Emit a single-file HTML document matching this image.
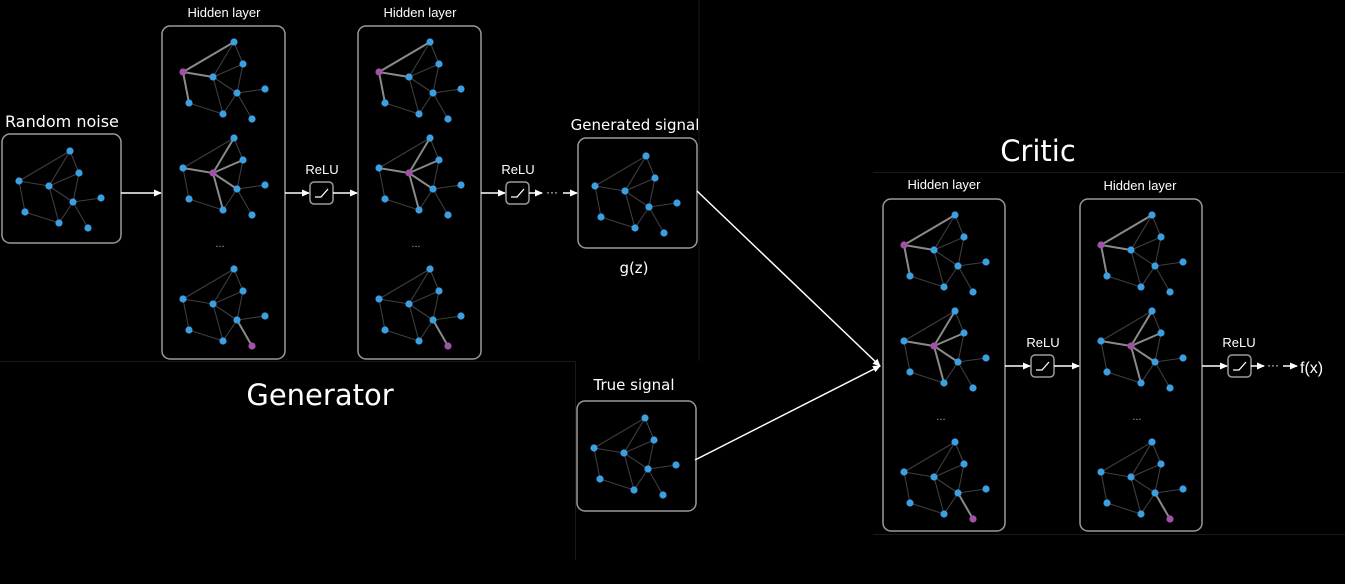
<!DOCTYPE html>
<html><head><meta charset="utf-8"><style>
html,body{margin:0;padding:0;background:#000;width:1345px;height:584px;overflow:hidden}
svg{display:block;font-family:"Liberation Sans","DejaVu Sans",sans-serif}
.dj{font-family:"DejaVu Sans","Liberation Sans",sans-serif}
</style></head><body>
<svg id="s" width="1345" height="584" viewBox="0 0 1345 584">
<defs><marker id="ah" markerWidth="8" markerHeight="8" refX="7" refY="4" orient="auto" markerUnits="userSpaceOnUse"><path d="M0,0.5 L8,4 L0,7.5z" fill="#fff"/></marker></defs>
<g stroke="#191919" stroke-width="1" fill="none">
<path d="M699,0 V361 M0,361.5 H575 M575.5,361 V560 M873,172.5 H1345 M873,534.5 H1345"/>
</g>
<g id="boxes" fill="none" stroke="#9a9a9a" stroke-width="1.5">
<rect x="2" y="134" width="119" height="109" rx="8"/>
<rect x="162" y="26" width="123" height="333" rx="8"/>
<rect x="358" y="26" width="123" height="333" rx="8"/>
<rect x="578" y="138" width="119" height="110" rx="8"/>
<rect x="577" y="401" width="119" height="110" rx="8"/>
<rect x="883" y="199" width="122" height="332" rx="8"/>
<rect x="1080" y="199" width="122" height="332" rx="8"/>
</g>
<g id="relus" fill="none" stroke="#9a9a9a" stroke-width="1.5"></g>
<g id="arrows" stroke="#fff" stroke-width="1.5" fill="none"></g>
<g id="graphs"></g>
<g fill="#fff" font-size="13">
<text x="224" y="17" text-anchor="middle">Hidden layer</text>
<text x="420" y="17" text-anchor="middle">Hidden layer</text>
<text x="944" y="189" text-anchor="middle">Hidden layer</text>
<text x="1140" y="190" text-anchor="middle">Hidden layer</text>
<text x="322" y="174" text-anchor="middle">ReLU</text>
<text x="518" y="174" text-anchor="middle">ReLU</text>
<text x="1043" y="347" text-anchor="middle">ReLU</text>
<text x="1239" y="347" text-anchor="middle">ReLU</text>
<text class="dj" x="5" y="127" font-size="16">Random noise</text>
<text class="dj" x="635" y="130" font-size="15" text-anchor="middle">Generated signal</text>
<text class="dj" x="634" y="273" font-size="15" text-anchor="middle">g(z)</text>
<text class="dj" x="634" y="390" font-size="15" text-anchor="middle">True signal</text>
<text class="dj" x="320" y="405" font-size="29" text-anchor="middle">Generator</text>
<text class="dj" x="1038" y="161" font-size="29" text-anchor="middle">Critic</text>
<text x="1300" y="373" font-size="16">f(x)</text>
<text x="220" y="247" font-size="11" fill="#aaa" text-anchor="middle">...</text>
<text x="416" y="247" font-size="11" fill="#aaa" text-anchor="middle">...</text>
<text x="941" y="420" font-size="11" fill="#aaa" text-anchor="middle">...</text>
<text x="1137" y="420" font-size="11" fill="#aaa" text-anchor="middle">...</text>
</g>
</svg>
<script>
const NS='http://www.w3.org/2000/svg';
const nodeOffsets=[[0,0],[9,22],[-51,30],[-21,35],[3,51],[31,47],[-45,61],[-11,72],[18,77]];
const edges=[[2,0],[0,1],[3,0],[2,3],[3,1],[3,4],[1,4],[4,5],[4,8],[3,7],[4,7],[2,6],[6,7]];
const graphTops=[[70,151,-1],[234,42,2],[234,138,3],[234,269,8],[430,42,2],[430,138,3],[430,269,8],[646,156,-1],[645,418,-1],[955,215,2],[955,311,3],[955,442,8],[1152,215,2],[1152,311,3],[1152,442,8]];
const g=document.getElementById('graphs');
function mk(tag,attrs,parent){const e=document.createElementNS(NS,tag);for(const k in attrs)e.setAttribute(k,attrs[k]);parent.appendChild(e);return e;}
graphTops.forEach((t,gi)=>{
  const grp=mk('g',{},g);
  
  
  const P=nodeOffsets.map(o=>[t[0]+o[0],t[1]+o[1]]);
  edges.forEach(e=>{const hi=(e[0]===t[2]||e[1]===t[2]);
    mk('line',{x1:P[e[0]][0],y1:P[e[0]][1],x2:P[e[1]][0],y2:P[e[1]][1],stroke:hi?'#8a8a8a':'#3e3e3e','stroke-width':hi?2:1.1},grp);});
  P.forEach((p,i)=>{const c=mk('circle',{cx:p[0],cy:p[1],r:3.6,fill:i===t[2]?'#a052a8':'#3b9fe0'},grp);
    
    });
});
const relus=[[310,182],[506,182],[1031,355],[1228,355]];
const rg=document.getElementById('relus');
relus.forEach(r=>{const b=mk('g',{},rg);
  
  
  mk('rect',{x:r[0],y:r[1],width:23,height:22,rx:4},b);
  mk('path',{d:`M${r[0]+5},${r[1]+15} H${r[0]+11} L${r[0]+18},${r[1]+7}`,stroke:'#fff','stroke-width':1.3},b);});
const ag=document.getElementById('arrows');
const arrs=[[121,193,161,193],[285,193,309,193],[333,193,357,193],[481,193,505,193],[529,193,542,193],[563,193,577,193],
[1005,366,1030,366],[1054,366,1079,366],[1202,366,1227,366],[1251,366,1264,366],[1283,366,1297,366],
[697,191,880,366],[695,460,880,366]];
arrs.forEach(a=>{const l=mk('line',{x1:a[0],y1:a[1],x2:a[2],y2:a[3],'marker-end':'url(#ah)'},ag);
  
  });
[[552,193],[1273,366]].forEach(d=>{const t=mk('text',{x:d[0],y:d[1]+3,fill:'#fff','font-size':12,'text-anchor':'middle',stroke:'none'},ag);t.textContent='···';
  
  });
</script>
</body></html>
